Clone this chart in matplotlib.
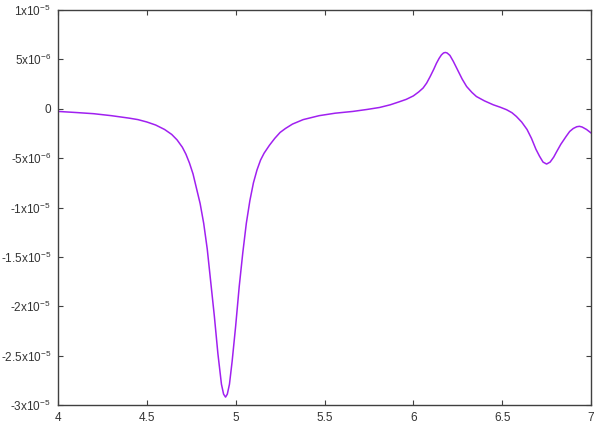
import matplotlib
matplotlib.use("Agg")
import matplotlib.pyplot as plt

# data (y values in units of 1e-6)
x_vals = [4.00, 4.10, 4.20, 4.30, 4.40, 4.45, 4.50, 4.55, 4.60, 4.64, 4.67, 4.70,
          4.72, 4.74, 4.76, 4.78, 4.80, 4.82, 4.84, 4.86, 4.88, 4.90, 4.92, 4.932,
          4.943, 4.953, 4.965, 4.98, 5.00, 5.02, 5.04, 5.06, 5.08, 5.10, 5.12,
          5.14, 5.16, 5.19, 5.22, 5.25, 5.28, 5.32, 5.38, 5.47, 5.56, 5.66, 5.74,
          5.81, 5.87, 5.92, 5.96, 6.00, 6.03, 6.055, 6.075, 6.095, 6.115, 6.13,
          6.145, 6.158, 6.17, 6.18, 6.19, 6.206, 6.225, 6.25, 6.275, 6.30, 6.33,
          6.355, 6.40, 6.45, 6.49, 6.525, 6.555, 6.58, 6.61, 6.64, 6.665, 6.69,
          6.71, 6.73, 6.75, 6.77, 6.79, 6.805, 6.83, 6.86, 6.88, 6.90, 6.92,
          6.935, 6.95, 6.975, 7.00]
y_micro = [-0.27, -0.38, -0.5, -0.7, -0.95, -1.1, -1.34, -1.65, -2.1, -2.6, -3.15, -3.9,
           -4.6, -5.5, -6.6, -8.1, -9.6, -11.6, -14.2, -17.6, -21.0, -24.8, -27.9, -28.9,
           -29.2, -28.9, -27.9, -25.6, -22.0, -18.0, -14.6, -11.6, -9.3, -7.5, -6.2,
           -5.2, -4.5, -3.7, -3.0, -2.4, -2.0, -1.55, -1.1, -0.7, -0.45, -0.27, -0.07,
           0.13, 0.4, 0.7, 0.95, 1.3, 1.7, 2.1, 2.6, 3.27, 4.0, 4.6,
           5.1, 5.45, 5.65, 5.7, 5.65, 5.4, 4.8, 3.9, 3.0, 2.25, 1.65,
           1.24, 0.8, 0.4, 0.15, -0.1, -0.4, -0.78, -1.35, -2.1, -3.0, -4.1,
           -4.8, -5.4, -5.6, -5.4, -4.9, -4.4, -3.6, -2.8, -2.3, -2.0, -1.82,
           -1.78, -1.85, -2.1, -2.45]
y_vals = [v * 1e-6 for v in y_micro]

x_ticks = [4, 4.5, 5, 5.5, 6, 6.5, 7]
x_tick_labels = ["4", "4.5", "5", "5.5", "6", "6.5", "7"]
y_ticks = [1e-5, 5e-6, 0, -5e-6, -1e-5, -1.5e-5, -2e-5, -2.5e-5, -3e-5]
y_tick_labels = ["1x10$^{-5}$", "5x10$^{-6}$", "0", "-5x10$^{-6}$", "-1x10$^{-5}$",
                 "-1.5x10$^{-5}$", "-2x10$^{-5}$", "-2.5x10$^{-5}$", "-3x10$^{-5}$"]

plt.rcParams['font.family'] = ['Liberation Sans', 'DejaVu Sans']
plt.rcParams['mathtext.default'] = 'regular'

fig = plt.figure(figsize=(6, 4.34), dpi=100)
ax = fig.add_axes([58/600, 29/434, 533/600, 395/434])
ax.plot(x_vals, y_vals, color='#a020f0', lw=1.1, solid_joinstyle='round')
ax.set_xlim(4, 7)
ax.set_ylim(-3e-5, 1e-5)
ax.set_xticks(x_ticks)
ax.set_xticklabels(x_tick_labels)
ax.set_yticks(y_ticks)
ax.set_yticklabels(y_tick_labels)
ax.tick_params(direction='in', length=3.5, width=0.8, colors='#404040',
               labelcolor='#333333', labelsize=8.5, top=True, right=True, pad=5)
for s in ax.spines.values():
    s.set_color('#404040')
    s.set_linewidth(1.0)
fig.savefig('out.png', dpi=100)
